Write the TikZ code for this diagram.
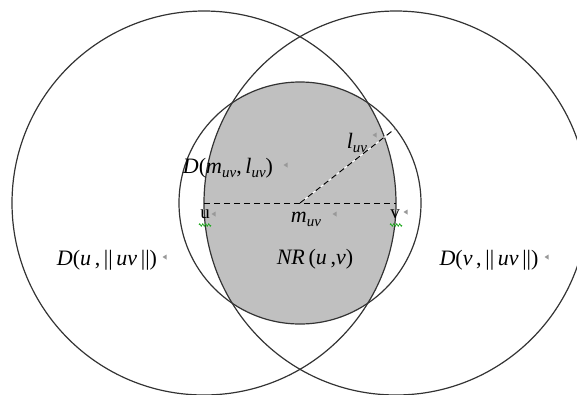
\documentclass[tikz,border=0pt]{standalone}
\usepackage{fontspec}
\setmainfont{Liberation Serif}
\usetikzlibrary{decorations.pathmorphing,calc}
\definecolor{lin}{HTML}{333333}
\definecolor{regiongray}{HTML}{C0C0C0}
\definecolor{mk}{HTML}{999999}
\definecolor{sq}{HTML}{22AA22}
\newcommand\subuv{\raisebox{-0.4ex}{\fontsize{15}{15}\selectfont\textit{uv}}}
\tikzset{
  circ/.style={draw=lin, line width=1.2pt},
  lbl/.style={inner sep=0pt, font=\fontsize{22}{22}\selectfont},
  ptlbl/.style={inner sep=0pt, font=\fontsize{19}{19}\selectfont},
  dsh/.style={draw=black, line width=1pt, dash pattern=on 6pt off 4pt},
  mkr/.pic={\fill[mk] (1.5,-2.5) -- (1.5,2.5) -- (-2.5,0) -- cycle;},
  squig/.style={draw=sq, line width=0.7pt, decorate, decoration={zigzag, amplitude=1.3pt, segment length=3pt}}
}
\begin{document}
\begin{tikzpicture}[x=1pt, y=-1pt]
\useasboundingbox (0,0) rectangle (577,394);
\coordinate (u) at (204,203);
\coordinate (v) at (396,203);
\coordinate (m) at (300,203);
\coordinate (r) at ($(m)+(-38:121)$);
% shaded region
\begin{scope}
  \clip (u) circle (192);
  \clip (v) circle (192);
  \fill[regiongray] (m) circle (121);
\end{scope}
\draw[circ] (u) circle (192);
\draw[circ] (v) circle (192);
\draw[circ] (m) circle (121);
% dashed lines
\draw[dsh] (u) -- (v);
\draw[white, line width=1pt] (m) -- (r);
\draw[dsh] (m) -- (r);
% labels
\node[ptlbl] (lu) at (205,214) {u};
\node[ptlbl] (lv) at (395,214) {v};
\draw[squig] (199,225) -- (211,225);
\draw[squig] (390,225) -- (402,225);
\node[lbl] (lm) at (306,219) {\textit{m}\subuv};
\node[lbl] (ll) at (357,143) {\textit{l}\subuv};
\node[lbl] (lD) at (228,168) {\textit{D}(\textit{m}\subuv,\,\textit{l}\subuv)};
\node[lbl] (lDu) at (107,260) {\textit{D}(\textit{u}\,,\,||\,\textit{uv}\,||)};
\node[lbl] (lDv) at (489,260) {\textit{D}(\textit{v}\,,\,||\,\textit{uv}\,||)};
\node[lbl] (lNR) at (315,259) {\textit{NR}\,(\textit{u}\,,\textit{v})};
% anchor marks
\pic at (165,257) {mkr};
\pic at (547,257) {mkr};
\pic at (286,165) {mkr};
\pic at (335,214) {mkr};
\pic at (375,135) {mkr};
\pic at (214,214) {mkr};
\pic at (406,212) {mkr};
\end{tikzpicture}
\end{document}
